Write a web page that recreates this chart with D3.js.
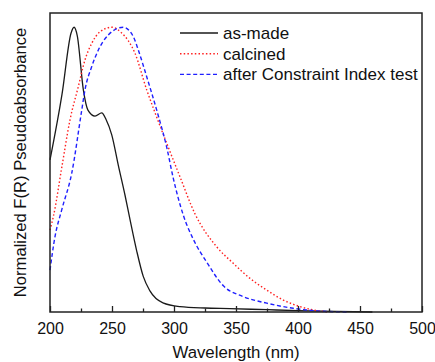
<!DOCTYPE html>
<html><head><meta charset="utf-8">
<script src="https://cdn.jsdelivr.net/npm/d3@7"></script>
<style>body{margin:0;background:#fff}svg{display:block}text{font-family:Arial,"Liberation Sans",sans-serif;fill:#111}</style>
</head><body><svg id="c" width="435" height="362"></svg>
<script>
const seriesNames = ["as-made", "calcined", "after Constraint Index test"];
const asMadeWl  = [200,209.7,217,219.4,222,226.9,230.6,236.3,241.7,245.2,249.8,255.1,260.5,264.5,269.9,275.2,280.6,291.1,304.8,325,345,375,400,430,460];
const asMadeVal = [0.534,0.765,0.98,1.0,0.97,0.78,0.709,0.688,0.699,0.676,0.622,0.515,0.41,0.325,0.215,0.125,0.074,0.032,0.019,0.014,0.012,0.008,0.005,0.002,0.0];
const calcWl  = [200,202.7,209.7,216.1,222.8,228.2,233.6,240.3,249.8,257.8,268.5,278,284.7,294.1,304.8,316.9,334.4,347.8,361.3,374.8,388.1,401.6,415,425];
const calcVal = [0.288,0.335,0.513,0.674,0.791,0.885,0.943,0.984,1.0,0.98,0.909,0.78,0.70,0.593,0.475,0.345,0.229,0.171,0.118,0.077,0.042,0.019,0.005,0.0];
const ciWl  = [200,204,209.4,217.5,225.6,228.2,233.6,239,247,259.1,267.2,271.2,278,287.3,294.1,299.4,307.5,315.6,326.4,339.8,355.9,374.8,396.2,415,440];
const ciVal = [0.147,0.264,0.358,0.487,0.709,0.78,0.861,0.92,0.973,1.0,0.967,0.92,0.826,0.69,0.579,0.47,0.34,0.255,0.175,0.092,0.054,0.031,0.013,0.004,0.0];
const xMajorTicks = [200,250,300,350,400,450,500];
const xMinorTicks = [225,275,325,375,425,475];
const colors = ["#1a1a1a", "#ff2020", "#1f1fff"];
const dashes = [null, "1.5,2.2", "4,2.6"];

const svg = d3.select("#c");
const L = 50, R = 422, T = 13, B = 312;
const x = d3.scaleLinear().domain([200, 500]).range([L, R]);
const y = d3.scaleLinear().domain([0, 1.05]).range([B, T]);

const data = [
  asMadeWl.map((w,i)=>[w, asMadeVal[i]]),
  calcWl.map((w,i)=>[w, calcVal[i]]),
  ciWl.map((w,i)=>[w, ciVal[i]])
];
const line = d3.line().x(d=>x(d[0])).y(d=>y(d[1])).curve(d3.curveMonotoneX);

svg.append("g").selectAll("path").data(data).join("path")
  .attr("d", line).attr("fill","none")
  .attr("stroke",(d,i)=>colors[i]).attr("stroke-width",(d,i)=>i===0?1.3:1.4)
  .attr("stroke-dasharray",(d,i)=>dashes[i]);

// frame
svg.append("rect").attr("x",L).attr("y",T).attr("width",R-L).attr("height",B-T)
  .attr("fill","none").attr("stroke","#222").attr("stroke-width",1.5);

// bottom axis, inward ticks
const ax = svg.append("g").attr("transform",`translate(0,${B})`)
  .call(d3.axisBottom(x).tickValues(xMajorTicks).tickSize(-6).tickPadding(11).tickFormat(d3.format("d")));
ax.select(".domain").remove();
ax.selectAll("line").attr("stroke","#222").attr("stroke-width",1.3);
ax.selectAll("text").style("font-size","16px").attr("fill","#111");
const axm = svg.append("g").attr("transform",`translate(0,${B})`)
  .call(d3.axisBottom(x).tickValues(xMinorTicks).tickSize(-3.5).tickFormat(""));
axm.select(".domain").remove();
axm.selectAll("line").attr("stroke","#222").attr("stroke-width",1.3);

svg.append("text").attr("x",(L+R)/2).attr("y",358).attr("text-anchor","middle")
  .style("font-size","16.8px").text("Wavelength (nm)");
svg.append("text").attr("transform",`translate(26,${(T+B)/2}) rotate(-90)`).attr("text-anchor","middle")
  .style("font-size","16.6px").text("Normalized F(R) Pseudoabsorbance");

// legend
const lg = svg.append("g");
seriesNames.forEach((n,i)=>{
  const yy = 33 + i*20.7;
  lg.append("line").attr("x1",180).attr("x2",218).attr("y1",yy).attr("y2",yy)
    .attr("stroke",colors[i]).attr("stroke-width",i===0?1.6:1.4).attr("stroke-dasharray",dashes[i]);
  lg.append("text").attr("x",223).attr("y",yy).attr("dy","0.35em").style("font-size","17px").text(n);
});
</script></body></html>
